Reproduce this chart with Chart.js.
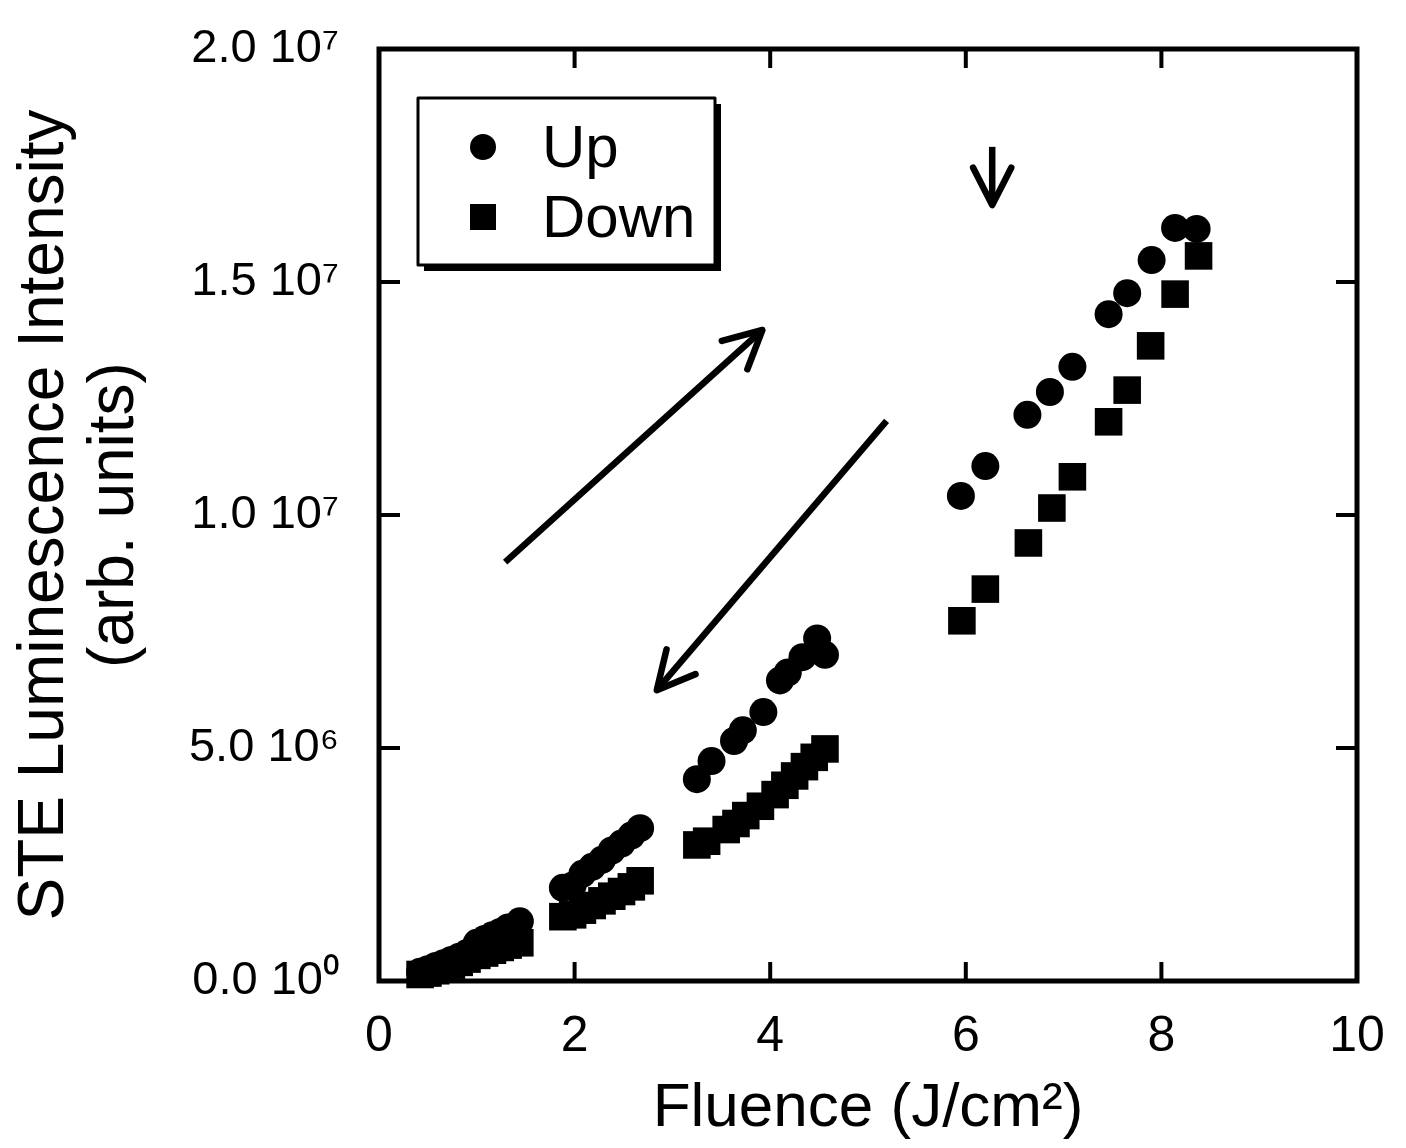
<!DOCTYPE html>
<html>
<head>
<meta charset="utf-8">
<script src="https://cdn.jsdelivr.net/npm/chart.js@4.4.0/dist/chart.umd.min.js"></script>
<style>
  html, body { margin: 0; padding: 0; background: #fff; }
  #wrap { width: 1406px; height: 1148px; }
</style>
</head>
<body>
<div id="wrap"><canvas id="steChart"></canvas></div>
<script>
// fluence in J/cm2, intensity in arb. units
const upFluence = [0.42, 0.50, 0.58, 0.66, 0.74, 0.82, 0.90, 1.00, 1.08, 1.16, 1.24, 1.32, 1.44,
  1.88, 1.98, 2.08, 2.18, 2.28, 2.38, 2.48, 2.58, 2.67,
  3.25, 3.40, 3.63, 3.72, 3.93, 4.10, 4.18, 4.33, 4.48, 4.56,
  5.95, 6.20, 6.63, 6.86, 7.09, 7.46, 7.65, 7.90, 8.14, 8.36];
const upIntensity = [0.20e6, 0.25e6, 0.32e6, 0.38e6, 0.45e6, 0.52e6, 0.60e6, 0.82e6, 0.90e6, 0.98e6, 1.05e6, 1.15e6, 1.28e6,
  2.00e6, 2.05e6, 2.30e6, 2.45e6, 2.60e6, 2.80e6, 2.95e6, 3.12e6, 3.28e6,
  4.33e6, 4.72e6, 5.15e6, 5.38e6, 5.77e6, 6.45e6, 6.62e6, 6.95e6, 7.35e6, 7.00e6,
  10.41e6, 11.05e6, 12.15e6, 12.64e6, 13.18e6, 14.31e6, 14.76e6, 15.47e6, 16.16e6, 16.14e6];

const downFluence = [0.42, 0.50, 0.58, 0.66, 0.74, 0.82, 0.90, 1.00, 1.08, 1.16, 1.24, 1.32, 1.44,
  1.88, 1.98, 2.08, 2.18, 2.28, 2.38, 2.48, 2.58, 2.67,
  3.25, 3.35, 3.55, 3.65, 3.75, 3.90, 4.05, 4.15, 4.25, 4.35, 4.45, 4.56,
  5.96, 6.20, 6.64, 6.88, 7.09, 7.46, 7.65, 7.89, 8.14, 8.38];
const downIntensity = [0.14e6, 0.17e6, 0.22e6, 0.28e6, 0.34e6, 0.40e6, 0.47e6, 0.55e6, 0.60e6, 0.66e6, 0.72e6, 0.77e6, 0.82e6,
  1.38e6, 1.42e6, 1.52e6, 1.62e6, 1.72e6, 1.82e6, 1.92e6, 2.02e6, 2.15e6,
  2.92e6, 3.00e6, 3.25e6, 3.38e6, 3.55e6, 3.75e6, 4.00e6, 4.20e6, 4.40e6, 4.60e6, 4.80e6, 4.98e6,
  7.73e6, 8.41e6, 9.40e6, 10.15e6, 10.82e6, 12.00e6, 12.68e6, 13.63e6, 14.74e6, 15.56e6];

const xTicks = [0, 2, 4, 6, 8, 10];
const yTicks = [0, 5e6, 1e7, 1.5e7, 2e7];

const FONT = "'Liberation Sans', Arial, Helvetica, sans-serif";
const SUP = {'0':'⁰','1':'¹','2':'²','3':'³','4':'⁴','5':'⁵','6':'⁶','7':'⁷','8':'⁸','9':'⁹'};

function sciLabel(v) {
  const exp = v === 0 ? 0 : Math.floor(Math.log10(v));
  const mant = v / Math.pow(10, exp);
  return mant.toFixed(1) + ' 10' + String(exp).split('').map(c => SUP[c]).join('');
}

function toPoints(xs, ys) {
  return xs.map((v, i) => ({ x: v, y: ys[i] }));
}

// frame with inward ticks on all four sides, arrows and the boxed legend
const decorPlugin = {
  id: 'decor',
  afterDraw(chart) {
    const { ctx, chartArea: a, scales: { x, y } } = chart;
    ctx.save();
    ctx.strokeStyle = '#000';
    ctx.fillStyle = '#000';

    ctx.lineWidth = 4;
    x.ticks.forEach(t => {
      if (t.value <= x.min || t.value >= x.max) return;
      const px = x.getPixelForValue(t.value);
      ctx.beginPath();
      ctx.moveTo(px, a.bottom); ctx.lineTo(px, a.bottom - 19);
      ctx.moveTo(px, a.top); ctx.lineTo(px, a.top + 19);
      ctx.stroke();
    });
    y.ticks.forEach(t => {
      if (t.value <= y.min || t.value >= y.max) return;
      const py = y.getPixelForValue(t.value);
      ctx.beginPath();
      ctx.moveTo(a.left, py); ctx.lineTo(a.left + 21, py);
      ctx.moveTo(a.right, py); ctx.lineTo(a.right - 21, py);
      ctx.stroke();
    });
    ctx.lineWidth = 5;
    ctx.strokeRect(a.left, a.top, a.right - a.left, a.bottom - a.top);

    // arrows, given in data units
    const arrows = [
      { from: [1.29, 8.99e6], to: [3.92, 13.97e6] },
      { from: [5.19, 12.02e6], to: [2.84, 6.24e6] },
      { from: [6.27, 17.9e6], to: [6.27, 16.65e6] }
    ];
    ctx.lineWidth = 6.5;
    arrows.forEach(ar => {
      const x0 = x.getPixelForValue(ar.from[0]), y0 = y.getPixelForValue(ar.from[1]);
      const x1 = x.getPixelForValue(ar.to[0]), y1 = y.getPixelForValue(ar.to[1]);
      ctx.lineCap = 'butt';
      ctx.beginPath(); ctx.moveTo(x0, y0); ctx.lineTo(x1, y1); ctx.stroke();
      const ang = Math.atan2(y0 - y1, x0 - x1);
      const len = 42, spread = 27 * Math.PI / 180;
      ctx.lineCap = 'round';
      ctx.lineJoin = 'round';
      ctx.beginPath();
      ctx.moveTo(x1 + len * Math.cos(ang + spread), y1 + len * Math.sin(ang + spread));
      ctx.lineTo(x1, y1);
      ctx.lineTo(x1 + len * Math.cos(ang - spread), y1 + len * Math.sin(ang - spread));
      ctx.stroke();
    });

    // legend box with drop shadow
    const bx = a.left + 39, by = a.top + 49, bw = 297, bh = 167;
    ctx.fillRect(bx + 6, by + 6, bw, bh);
    ctx.fillStyle = '#fff';
    ctx.fillRect(bx, by, bw, bh);
    ctx.lineWidth = 3;
    ctx.strokeRect(bx, by, bw, bh);
    ctx.fillStyle = '#000';
    ctx.font = '60px ' + FONT;
    ctx.textBaseline = 'middle';
    ctx.textAlign = 'left';
    chart.data.datasets.forEach((ds, i) => {
      const cy = by + 49 + i * 70;
      const cx = bx + 65;
      ctx.beginPath();
      if (ds.pointStyle === 'rect') {
        ctx.rect(cx - 13, cy - 13, 26, 26);
      } else {
        ctx.arc(cx, cy, 13, 0, Math.PI * 2);
      }
      ctx.fill();
      ctx.fillText(ds.label, bx + 124, cy + 3);
    });
    ctx.restore();
  }
};

new Chart(document.getElementById('steChart').getContext('2d'), {
  type: 'scatter',
  data: {
    datasets: [
      {
        label: 'Up',
        data: toPoints(upFluence, upIntensity),
        pointStyle: 'circle',
        pointRadius: 14,
        backgroundColor: '#000',
        borderWidth: 0,
        clip: false
      },
      {
        label: 'Down',
        data: toPoints(downFluence, downIntensity),
        pointStyle: 'rect',
        pointRadius: 19.5,
        backgroundColor: '#000',
        borderWidth: 0,
        clip: false
      }
    ]
  },
  options: {
    responsive: true,
    maintainAspectRatio: false,
    animation: false,
    layout: { padding: { top: 49, right: 49, left: 0, bottom: 0 } },
    plugins: {
      legend: { display: false },
      tooltip: { enabled: false }
    },
    scales: {
      x: {
        type: 'linear',
        min: 0,
        max: 10,
        afterBuildTicks: s => { s.ticks = xTicks.map(v => ({ value: v })); },
        afterFit: s => { s.height = 167; s.paddingLeft = 0; s.paddingRight = 0; },
        grid: { display: false },
        border: { display: false },
        ticks: {
          color: '#000',
          padding: 18,
          maxRotation: 0,
          font: { family: FONT, size: 50 },
          callback: v => String(v)
        },
        title: {
          display: true,
          text: 'Fluence (J/cm²)',
          color: '#000',
          padding: { top: 0, bottom: 2 },
          font: { family: FONT, size: 62 }
        }
      },
      y: {
        type: 'linear',
        min: 0,
        max: 2e7,
        afterBuildTicks: s => { s.ticks = yTicks.map(v => ({ value: v })); },
        afterFit: s => { s.width = 379; s.paddingTop = 0; s.paddingBottom = 0; },
        grid: { display: false },
        border: { display: false },
        ticks: {
          color: '#000',
          padding: 32,
          font: { family: FONT, size: 47 },
          callback: v => sciLabel(v)
        },
        title: {
          display: true,
          text: ['STE Luminescence Intensity', '(arb. units)'],
          color: '#000',
          padding: { top: 10, bottom: 0 },
          font: { family: FONT, size: 64, lineHeight: 1.1 }
        }
      }
    }
  },
  plugins: [decorPlugin]
});
</script>
</body>
</html>
